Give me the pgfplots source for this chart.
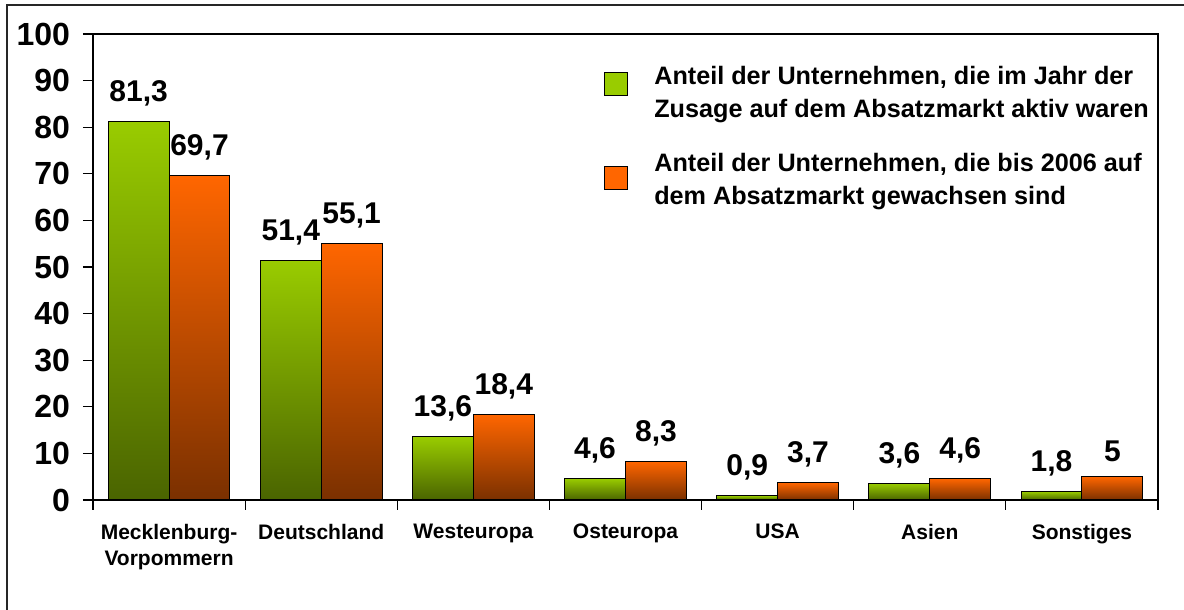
\documentclass[border=0pt]{standalone}
\usepackage{pgfplots}
\pgfplotsset{compat=1.18}
\usepackage{fontspec}
\setmainfont{Liberation Sans}
\definecolor{gtop}{HTML}{99CC00}
\definecolor{gbot}{HTML}{4A6400}
\definecolor{otop}{HTML}{FF6600}
\definecolor{obot}{HTML}{7A3000}
\pgfplotsset{
  gbar/.style={forget plot, bar shift=-0.2, draw=black, line width=0.5pt, top color=gtop, bottom color=gbot},
  obar/.style={forget plot, bar shift=0.2, draw=black, line width=0.5pt, top color=otop, bottom color=obot},
}
\begin{document}
\begin{tikzpicture}
\draw[line width=1pt, black!85] (3.6pt,0pt) -- (3.6pt,302.3pt) -- (592pt,302.3pt);
\begin{axis}[
  at={(46.5pt,55pt)}, anchor=south west,
  scale only axis, width=532.5pt, height=233pt,
  xmin=-0.5, xmax=6.5, ymin=0, ymax=100,
  ybar=0pt,
  axis line style={line width=0.6pt},
  tick style={black, line width=0.6pt},
  tick align=outside, major tick length=5pt,
  xtick pos=left, ytick pos=left,
  ytick={0,10,...,100},
  /pgf/number format/assume math mode=true,
  yticklabel style={font=\fontsize{16}{19}\selectfont\bfseries, xshift=-3pt},
  xtick={-0.5,0.5,...,6.5}, xticklabels={,,,,,,,,},
  extra x ticks={0,1,2,3,4,5,6},
  extra x tick labels={{Mecklenburg-\\Vorpommern},Deutschland,Westeuropa,Osteuropa,USA,Asien,Sonstiges},
  extra x tick style={major tick length=0pt, xticklabel style={align=center, font=\fontsize{10.5}{13}\selectfont\bfseries, yshift=-8.5pt}},
  bar width=0.4,
  nodes near coords,
  point meta=explicit symbolic,
  every node near coord/.append style={font=\fontsize{15}{17}\selectfont\bfseries, black, yshift=4pt},
  legend image code/.code={\draw[#1] (0pt,0pt) rectangle (11.5pt,11.5pt);},
  legend style={at={(0.479,0.94)}, anchor=north west, draw=none, fill=none,
    font=\fontsize{12.6}{16.5}\selectfont\bfseries, cells={align=left},
    row sep=12.5pt, inner sep=0pt,
    /tikz/every odd column/.append style={column sep=11.5pt}},
  legend cell align=left,
]
\addlegendimage{draw=black, fill=gtop, yshift=-1pt}
\addlegendentry{Anteil der Unternehmen, die im Jahr der\\Zusage auf dem Absatzmarkt aktiv waren}
\addlegendimage{draw=black, fill=otop, yshift=-4.5pt}
\addlegendentry{Anteil der Unternehmen, die bis 2006 auf\\dem Absatzmarkt gewachsen sind}
% green series: active in the year of commitment
\addplot[gbar] coordinates {(0,81.3) [81,3]};
\addplot[gbar] coordinates {(1,51.4) [51,4]};
\addplot[gbar] coordinates {(2,13.6) [13,6]};
\addplot[gbar] coordinates {(3,4.6) [4,6]};
\addplot[gbar] coordinates {(4,0.9) [0,9]};
\addplot[gbar] coordinates {(5,3.6) [3,6]};
\addplot[gbar] coordinates {(6,1.8) [1,8]};
% orange series: grown until 2006
\addplot[obar] coordinates {(0,69.7) [69,7]};
\addplot[obar] coordinates {(1,55.1) [55,1]};
\addplot[obar] coordinates {(2,18.4) [18,4]};
\addplot[obar] coordinates {(3,8.3) [8,3]};
\addplot[obar] coordinates {(4,3.7) [3,7]};
\addplot[obar] coordinates {(5,4.6) [4,6]};
\addplot[obar] coordinates {(6,5) [5]};
\end{axis}
\pgfresetboundingbox
\path (0pt,0pt) rectangle (592pt,305pt);
\end{tikzpicture}
\end{document}
